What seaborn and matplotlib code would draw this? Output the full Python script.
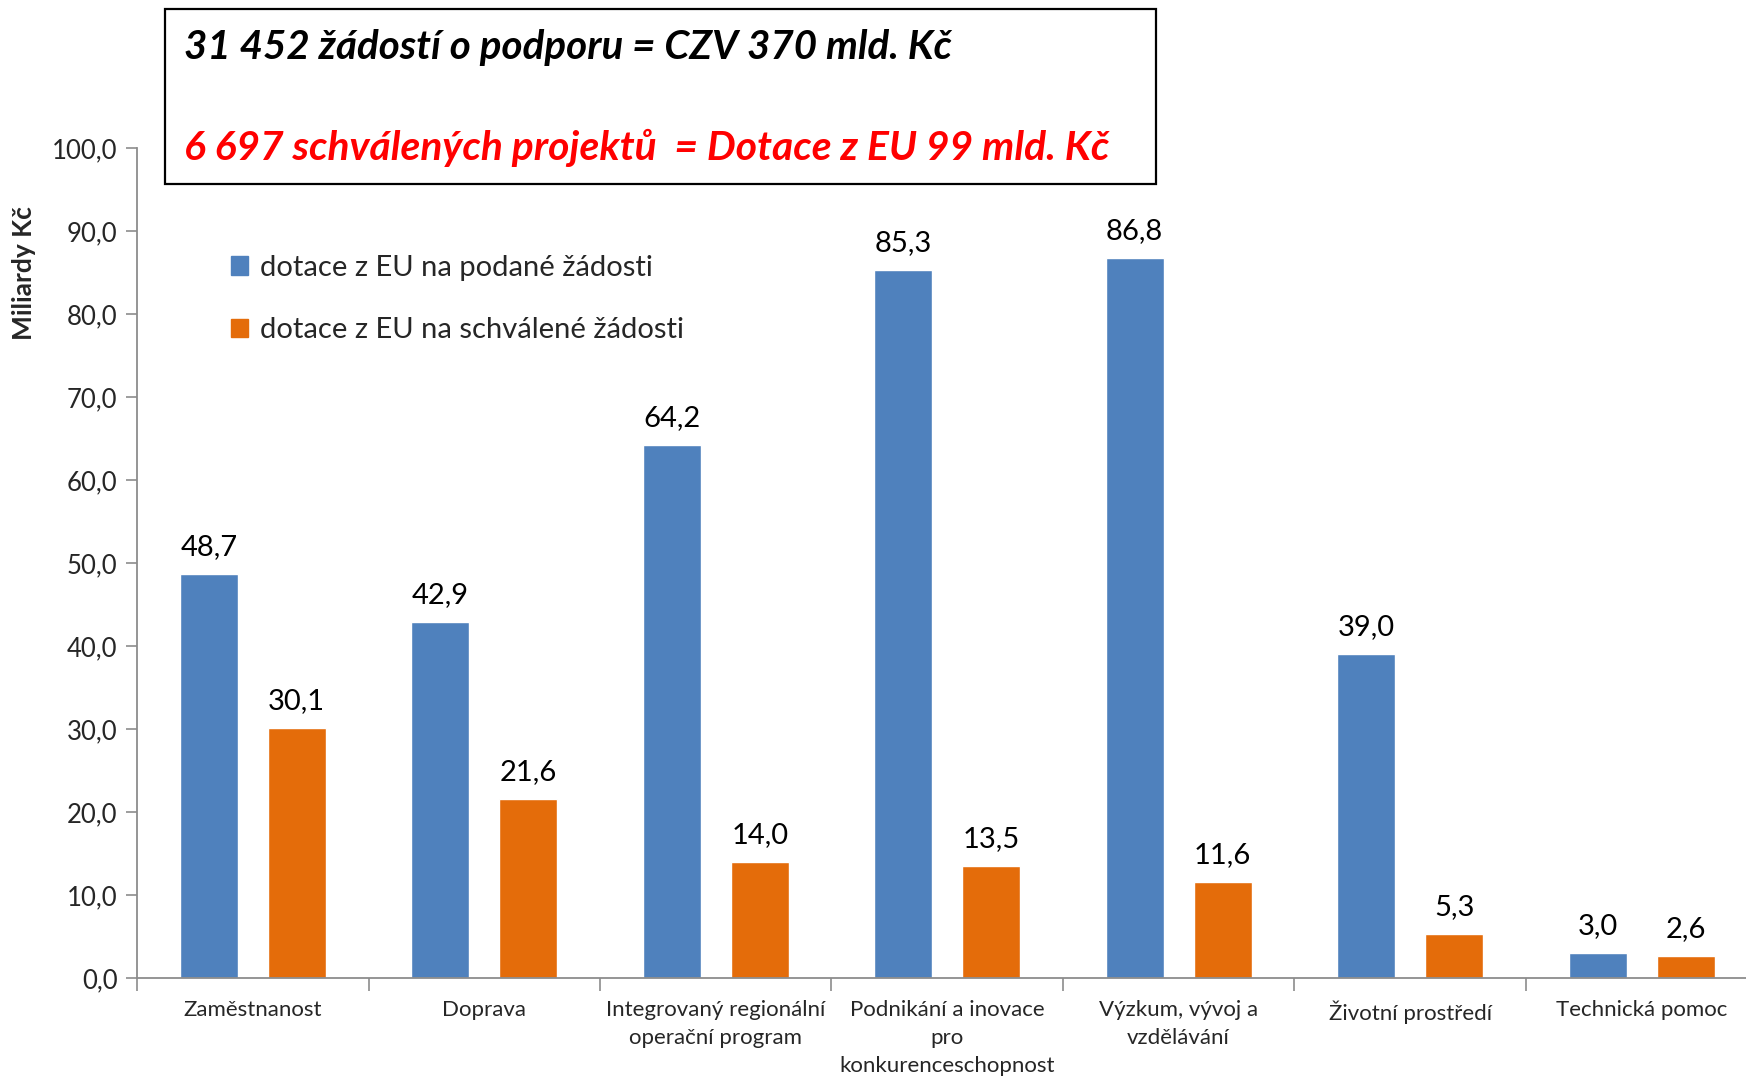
import matplotlib
matplotlib.use("Agg")
import matplotlib.pyplot as plt
from matplotlib.patches import Rectangle, Patch
from matplotlib.ticker import FuncFormatter, FixedLocator
import seaborn as sns
import pandas as pd

sns.set_theme(style="white")
plt.rcParams["font.family"] = ["Lato", "DejaVu Sans"]

# data
kategorie = ["Zaměstnanost", "Doprava", "Integrovaný regionální\noperační program",
             "Podnikání a inovace\npro\nkonkurenceschopnost", "Výzkum, vývoj a\nvzdělávání",
             "Životní prostředí", "Technická pomoc"]
podane = [48.7, 42.9, 64.2, 85.3, 86.8, 39.0, 3.0]
schvalene = [30.1, 21.6, 14.0, 13.5, 11.6, 5.3, 2.6]
serie = ["dotace z EU na podané žádosti", "dotace z EU na schválené žádosti"]
barvy = ["#4F81BD", "#E46C0A"]

df = pd.DataFrame({
    "kat": kategorie * 2,
    "hodnota": podane + schvalene,
    "serie": [serie[0]] * len(kategorie) + [serie[1]] * len(kategorie),
})

fig = plt.figure(figsize=(17.46, 10.78), dpi=100)
ax = fig.add_axes([0.0785, 0.0928, 0.928, 0.7699])

sns.barplot(data=df, x="kat", y="hodnota", hue="serie", palette=barvy,
            width=0.76, gap=0.34, saturation=1, legend=False, ax=ax)

carka = lambda v: f"{v:.1f}".replace(".", ",")
for cont in ax.containers:
    ax.bar_label(cont, labels=[carka(b.get_height()) for b in cont],
                 padding=10, fontsize=21, color="black")

ax.set_ylim(0, 100)
ax.set_xlim(-0.5, 6.5)
ax.set_yticks(range(0, 101, 10))
ax.yaxis.set_major_formatter(FuncFormatter(lambda v, p: carka(v)))
ax.tick_params(axis="y", labelsize=18.5, length=8, width=1.2, color="#8c8c8c",
               left=True, pad=6)
ax.tick_params(axis="x", which="major", length=0, labelsize=16, pad=16)
ax.xaxis.set_minor_locator(FixedLocator([i - 0.5 for i in range(8)]))
ax.tick_params(axis="x", which="minor", bottom=True, length=9, width=1.2,
               color="#8c8c8c")
for lab in ax.get_xticklabels():
    lab.set_linespacing(1.5)
ax.set_xlabel("")
ax.set_ylabel("")
for s in ["top", "right"]:
    ax.spines[s].set_visible(False)
for s in ["left", "bottom"]:
    ax.spines[s].set_color("#8c8c8c")
    ax.spines[s].set_linewidth(1.3)

fig.text(0.0137, 0.7468, "Miliardy Kč", rotation=90, ha="center", va="center",
         fontsize=19, fontweight="bold")

handles = [Patch(color=c) for c in barvy]
fig.legend(handles, serie, loc="upper left", bbox_to_anchor=(0.117, 0.788),
           frameon=False, fontsize=21, handlelength=0.6, handleheight=0.6,
           handletextpad=0.4, labelspacing=1.25)

fig.patches.append(Rectangle((0.0945, 0.8293), 0.5676, 0.1623, transform=fig.transFigure,
                             fill=False, edgecolor="black", linewidth=1.6, figure=fig))
fig.text(0.1054, 0.956, "31 452 žádostí o podporu = CZV 370 mld. Kč", ha="left",
         va="center", fontsize=29, fontweight="bold", fontstyle="italic", color="black")
fig.text(0.1054, 0.8627, "6 697 schválených projektů  = Dotace z EU 99 mld. Kč", ha="left",
         va="center", fontsize=29.3, fontweight="bold", fontstyle="italic", color="#FF0000")

fig.savefig("out.png", dpi=100)
